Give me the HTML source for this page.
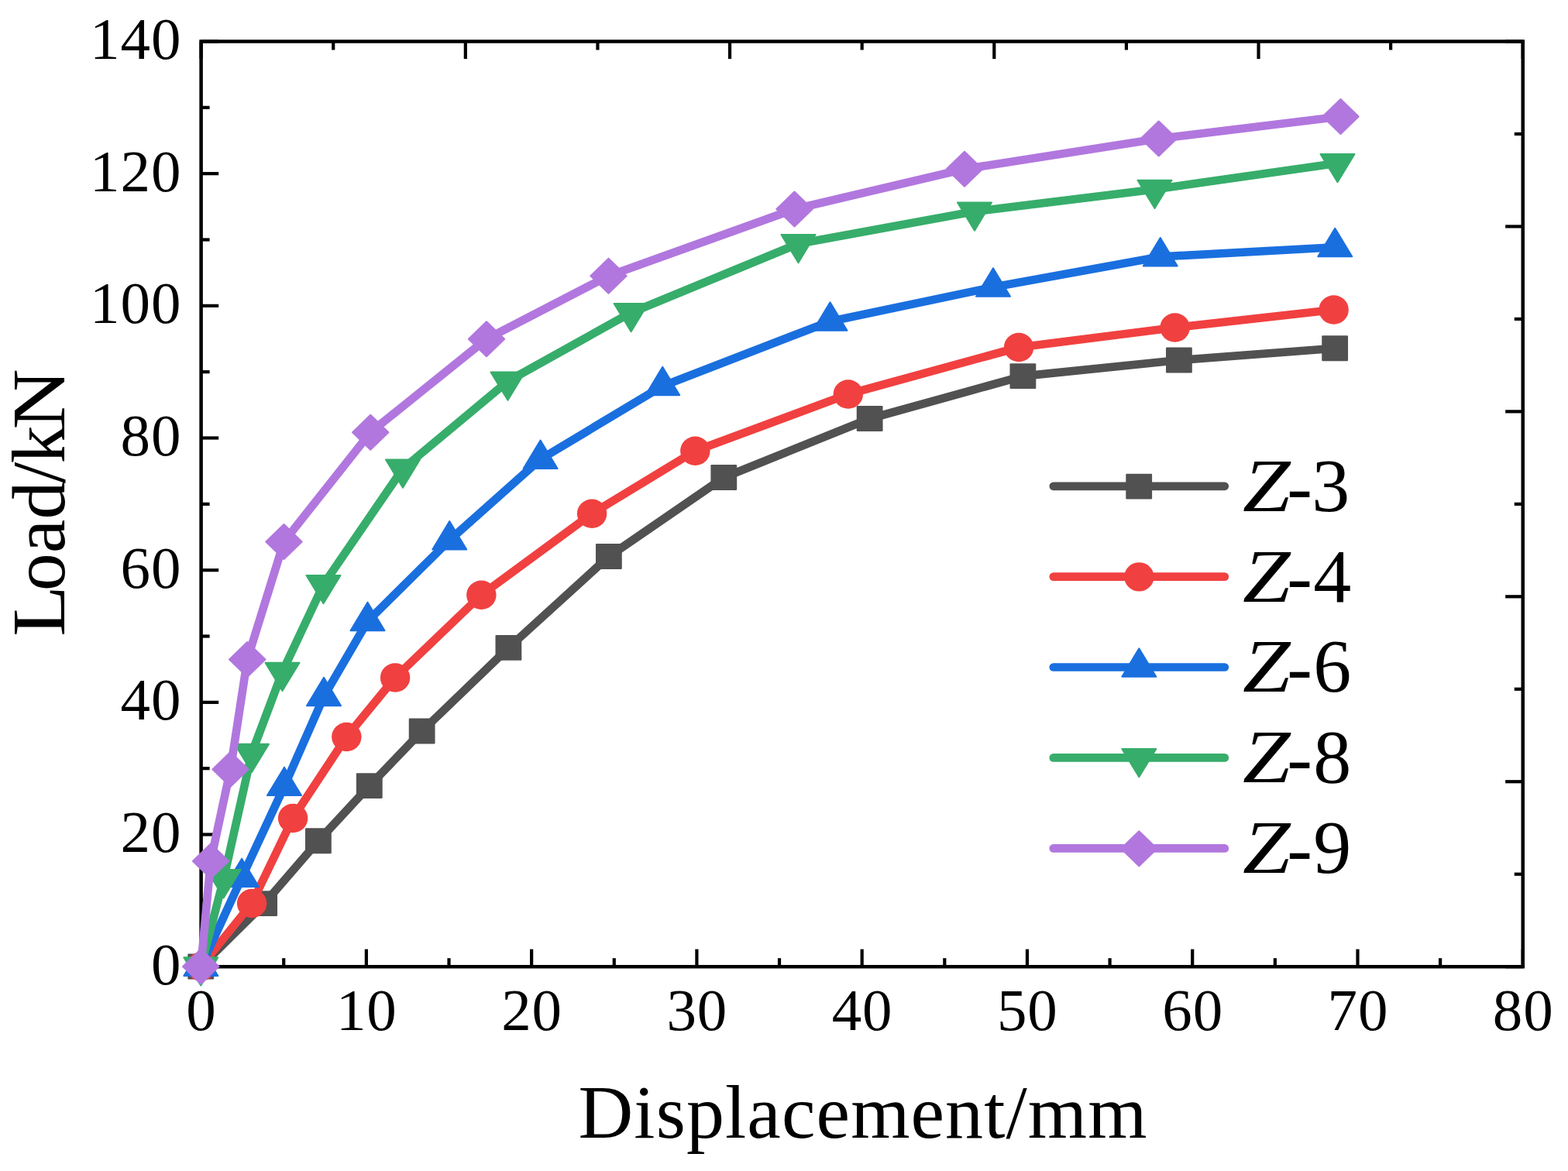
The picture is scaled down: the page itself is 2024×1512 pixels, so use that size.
<!DOCTYPE html>
<html lang="en"><head><meta charset="utf-8"><title>Load-Displacement curves</title>
<style>html,body{margin:0;padding:0;background:#fff;}body{width:2024px;height:1512px;overflow:hidden;}svg{display:block;}text{font-family:"Liberation Serif",serif;fill:#000;}</style>
</head><body>
<svg width="2024" height="1512" viewBox="0 0 2024 1512">
<rect x="0" y="0" width="2024" height="1512" fill="#fff"/>
<g stroke="#000" stroke-width="4.2" fill="none">
<line x1="259.6" y1="1248.2" x2="259.6" y2="1225.6"/>
<line x1="366.23" y1="1248.2" x2="366.23" y2="1237.2"/>
<line x1="472.87" y1="1248.2" x2="472.87" y2="1225.6"/>
<line x1="579.5" y1="1248.2" x2="579.5" y2="1237.2"/>
<line x1="686.14" y1="1248.2" x2="686.14" y2="1225.6"/>
<line x1="792.77" y1="1248.2" x2="792.77" y2="1237.2"/>
<line x1="899.41" y1="1248.2" x2="899.41" y2="1225.6"/>
<line x1="1006.04" y1="1248.2" x2="1006.04" y2="1237.2"/>
<line x1="1112.68" y1="1248.2" x2="1112.68" y2="1225.6"/>
<line x1="1219.31" y1="1248.2" x2="1219.31" y2="1237.2"/>
<line x1="1325.94" y1="1248.2" x2="1325.94" y2="1225.6"/>
<line x1="1432.58" y1="1248.2" x2="1432.58" y2="1237.2"/>
<line x1="1539.21" y1="1248.2" x2="1539.21" y2="1225.6"/>
<line x1="1645.85" y1="1248.2" x2="1645.85" y2="1237.2"/>
<line x1="1752.48" y1="1248.2" x2="1752.48" y2="1225.6"/>
<line x1="1859.12" y1="1248.2" x2="1859.12" y2="1237.2"/>
<line x1="1965.75" y1="1248.2" x2="1965.75" y2="1225.6"/>
<line x1="259.6" y1="1248.2" x2="282.2" y2="1248.2"/>
<line x1="259.6" y1="1162.86" x2="270.6" y2="1162.86"/>
<line x1="259.6" y1="1077.53" x2="282.2" y2="1077.53"/>
<line x1="259.6" y1="992.19" x2="270.6" y2="992.19"/>
<line x1="259.6" y1="906.86" x2="282.2" y2="906.86"/>
<line x1="259.6" y1="821.52" x2="270.6" y2="821.52"/>
<line x1="259.6" y1="736.19" x2="282.2" y2="736.19"/>
<line x1="259.6" y1="650.85" x2="270.6" y2="650.85"/>
<line x1="259.6" y1="565.51" x2="282.2" y2="565.51"/>
<line x1="259.6" y1="480.18" x2="270.6" y2="480.18"/>
<line x1="259.6" y1="394.84" x2="282.2" y2="394.84"/>
<line x1="259.6" y1="309.51" x2="270.6" y2="309.51"/>
<line x1="259.6" y1="224.17" x2="282.2" y2="224.17"/>
<line x1="259.6" y1="138.84" x2="270.6" y2="138.84"/>
<line x1="259.6" y1="53.5" x2="282.2" y2="53.5"/>
<line x1="259.6" y1="53.5" x2="259.6" y2="76.1"/>
<line x1="1965.75" y1="1248.2" x2="1943.15" y2="1248.2"/>
<line x1="430.22" y1="53.5" x2="430.22" y2="64.5"/>
<line x1="1965.75" y1="1128.73" x2="1954.75" y2="1128.73"/>
<line x1="600.83" y1="53.5" x2="600.83" y2="76.1"/>
<line x1="1965.75" y1="1009.26" x2="1943.15" y2="1009.26"/>
<line x1="771.45" y1="53.5" x2="771.45" y2="64.5"/>
<line x1="1965.75" y1="889.79" x2="1954.75" y2="889.79"/>
<line x1="942.06" y1="53.5" x2="942.06" y2="76.1"/>
<line x1="1965.75" y1="770.32" x2="1943.15" y2="770.32"/>
<line x1="1112.68" y1="53.5" x2="1112.68" y2="64.5"/>
<line x1="1965.75" y1="650.85" x2="1954.75" y2="650.85"/>
<line x1="1283.29" y1="53.5" x2="1283.29" y2="76.1"/>
<line x1="1965.75" y1="531.38" x2="1943.15" y2="531.38"/>
<line x1="1453.91" y1="53.5" x2="1453.91" y2="64.5"/>
<line x1="1965.75" y1="411.91" x2="1954.75" y2="411.91"/>
<line x1="1624.52" y1="53.5" x2="1624.52" y2="76.1"/>
<line x1="1965.75" y1="292.44" x2="1943.15" y2="292.44"/>
<line x1="1795.14" y1="53.5" x2="1795.14" y2="64.5"/>
<line x1="1965.75" y1="172.97" x2="1954.75" y2="172.97"/>
<line x1="1965.75" y1="53.5" x2="1965.75" y2="76.1"/>
<line x1="1965.75" y1="53.5" x2="1943.15" y2="53.5"/>
</g>
<rect x="259.6" y="53.5" width="1706.15" height="1194.7" fill="none" stroke="#000" stroke-width="4.5"/>
<g>
<polyline points="259.3,1248 341.25,1166.6 411,1085.75 476.9,1014.6 544.75,944 656.5,836.4 786,718.5 934.4,616.5 1122.75,540.5 1320.5,485.6 1522,465 1723.25,449.75" fill="none" stroke="#515151" stroke-width="10.7" stroke-linejoin="round" stroke-linecap="round"/>
<rect x="242.3" y="1231.55" width="33.8" height="32.9" rx="1.2" fill="#515151"/>
<rect x="324.25" y="1150.15" width="33.8" height="32.9" rx="1.2" fill="#515151"/>
<rect x="394" y="1069.3" width="33.8" height="32.9" rx="1.2" fill="#515151"/>
<rect x="459.9" y="998.15" width="33.8" height="32.9" rx="1.2" fill="#515151"/>
<rect x="527.75" y="927.55" width="33.8" height="32.9" rx="1.2" fill="#515151"/>
<rect x="639.5" y="819.95" width="33.8" height="32.9" rx="1.2" fill="#515151"/>
<rect x="769" y="702.05" width="33.8" height="32.9" rx="1.2" fill="#515151"/>
<rect x="917.4" y="600.05" width="33.8" height="32.9" rx="1.2" fill="#515151"/>
<rect x="1105.75" y="524.05" width="33.8" height="32.9" rx="1.2" fill="#515151"/>
<rect x="1303.5" y="469.15" width="33.8" height="32.9" rx="1.2" fill="#515151"/>
<rect x="1505" y="448.55" width="33.8" height="32.9" rx="1.2" fill="#515151"/>
<rect x="1706.25" y="433.3" width="33.8" height="32.9" rx="1.2" fill="#515151"/>
</g>
<g>
<polyline points="259.3,1248 325,1166.5 378,1056.5 447.25,951.5 510,875 621.25,768.25 764,663.25 897.25,582.25 1094.75,509 1315,448.5 1516.5,423 1721.5,400" fill="none" stroke="#F14040" stroke-width="10.7" stroke-linejoin="round" stroke-linecap="round"/>
<ellipse cx="259.4" cy="1248" rx="19.2" ry="18.7" fill="#F14040"/>
<ellipse cx="325.1" cy="1166.5" rx="19.2" ry="18.7" fill="#F14040"/>
<ellipse cx="378.1" cy="1056.5" rx="19.2" ry="18.7" fill="#F14040"/>
<ellipse cx="447.35" cy="951.5" rx="19.2" ry="18.7" fill="#F14040"/>
<ellipse cx="510.1" cy="875" rx="19.2" ry="18.7" fill="#F14040"/>
<ellipse cx="621.35" cy="768.25" rx="19.2" ry="18.7" fill="#F14040"/>
<ellipse cx="764.1" cy="663.25" rx="19.2" ry="18.7" fill="#F14040"/>
<ellipse cx="897.35" cy="582.25" rx="19.2" ry="18.7" fill="#F14040"/>
<ellipse cx="1094.85" cy="509" rx="19.2" ry="18.7" fill="#F14040"/>
<ellipse cx="1315.1" cy="448.5" rx="19.2" ry="18.7" fill="#F14040"/>
<ellipse cx="1516.6" cy="423" rx="19.2" ry="18.7" fill="#F14040"/>
<ellipse cx="1721.6" cy="400" rx="19.2" ry="18.7" fill="#F14040"/>
</g>
<g>
<polyline points="259.3,1248 312.1,1133.2 367,1015.2 418,899.4 474.5,802.25 580.25,697.5 697.6,593 855.25,498.4 1071.5,414.9 1282,370.75 1497.75,331.5 1723.25,319.25" fill="none" stroke="#1A6FDF" stroke-width="10.7" stroke-linejoin="round" stroke-linecap="round"/>
<polygon points="237.3,1259.9 281.3,1259.9 259.3,1223.45" fill="#1A6FDF" stroke="#1A6FDF" stroke-width="2" stroke-linejoin="round"/>
<polygon points="290.1,1145.1 334.1,1145.1 312.1,1108.65" fill="#1A6FDF" stroke="#1A6FDF" stroke-width="2" stroke-linejoin="round"/>
<polygon points="345,1027.1 389,1027.1 367,990.65" fill="#1A6FDF" stroke="#1A6FDF" stroke-width="2" stroke-linejoin="round"/>
<polygon points="396,911.3 440,911.3 418,874.85" fill="#1A6FDF" stroke="#1A6FDF" stroke-width="2" stroke-linejoin="round"/>
<polygon points="452.5,814.15 496.5,814.15 474.5,777.7" fill="#1A6FDF" stroke="#1A6FDF" stroke-width="2" stroke-linejoin="round"/>
<polygon points="558.25,709.4 602.25,709.4 580.25,672.95" fill="#1A6FDF" stroke="#1A6FDF" stroke-width="2" stroke-linejoin="round"/>
<polygon points="675.6,604.9 719.6,604.9 697.6,568.45" fill="#1A6FDF" stroke="#1A6FDF" stroke-width="2" stroke-linejoin="round"/>
<polygon points="833.25,510.3 877.25,510.3 855.25,473.85" fill="#1A6FDF" stroke="#1A6FDF" stroke-width="2" stroke-linejoin="round"/>
<polygon points="1049.5,426.8 1093.5,426.8 1071.5,390.35" fill="#1A6FDF" stroke="#1A6FDF" stroke-width="2" stroke-linejoin="round"/>
<polygon points="1260,382.65 1304,382.65 1282,346.2" fill="#1A6FDF" stroke="#1A6FDF" stroke-width="2" stroke-linejoin="round"/>
<polygon points="1475.75,343.4 1519.75,343.4 1497.75,306.95" fill="#1A6FDF" stroke="#1A6FDF" stroke-width="2" stroke-linejoin="round"/>
<polygon points="1701.25,331.15 1745.25,331.15 1723.25,294.7" fill="#1A6FDF" stroke="#1A6FDF" stroke-width="2" stroke-linejoin="round"/>
</g>
<g>
<polyline points="259.3,1248 288.7,1134.8 325,972.5 364.5,867.5 417.5,754.75 520,605.25 655.5,492.25 814.6,403.7 1030.5,314.75 1258,273.1 1490.5,244.5 1726.5,210.75" fill="none" stroke="#37AD6B" stroke-width="10.7" stroke-linejoin="round" stroke-linecap="round"/>
<polygon points="237.3,1236.3 281.3,1236.3 259.3,1272.55" fill="#37AD6B" stroke="#37AD6B" stroke-width="2" stroke-linejoin="round"/>
<polygon points="266.7,1123.1 310.7,1123.1 288.7,1159.35" fill="#37AD6B" stroke="#37AD6B" stroke-width="2" stroke-linejoin="round"/>
<polygon points="303,960.8 347,960.8 325,997.05" fill="#37AD6B" stroke="#37AD6B" stroke-width="2" stroke-linejoin="round"/>
<polygon points="342.5,855.8 386.5,855.8 364.5,892.05" fill="#37AD6B" stroke="#37AD6B" stroke-width="2" stroke-linejoin="round"/>
<polygon points="395.5,743.05 439.5,743.05 417.5,779.3" fill="#37AD6B" stroke="#37AD6B" stroke-width="2" stroke-linejoin="round"/>
<polygon points="498,593.55 542,593.55 520,629.8" fill="#37AD6B" stroke="#37AD6B" stroke-width="2" stroke-linejoin="round"/>
<polygon points="633.5,480.55 677.5,480.55 655.5,516.8" fill="#37AD6B" stroke="#37AD6B" stroke-width="2" stroke-linejoin="round"/>
<polygon points="792.6,392 836.6,392 814.6,428.25" fill="#37AD6B" stroke="#37AD6B" stroke-width="2" stroke-linejoin="round"/>
<polygon points="1008.5,303.05 1052.5,303.05 1030.5,339.3" fill="#37AD6B" stroke="#37AD6B" stroke-width="2" stroke-linejoin="round"/>
<polygon points="1236,261.4 1280,261.4 1258,297.65" fill="#37AD6B" stroke="#37AD6B" stroke-width="2" stroke-linejoin="round"/>
<polygon points="1468.5,232.8 1512.5,232.8 1490.5,269.05" fill="#37AD6B" stroke="#37AD6B" stroke-width="2" stroke-linejoin="round"/>
<polygon points="1704.5,199.05 1748.5,199.05 1726.5,235.3" fill="#37AD6B" stroke="#37AD6B" stroke-width="2" stroke-linejoin="round"/>
</g>
<g>
<polyline points="259.3,1248 272,1111.85 297.5,993.4 319.25,851.5 366.5,699.5 478.25,558.25 628,437.75 785.5,356.25 1025.5,270 1245,218.25 1495.75,179 1730.5,150.5" fill="none" stroke="#B177DE" stroke-width="10.7" stroke-linejoin="round" stroke-linecap="round"/>
<polygon points="236.1,1248 259.3,1225.5 282.5,1248 259.3,1270.5" fill="#B177DE" stroke="#B177DE" stroke-width="2" stroke-linejoin="round"/>
<polygon points="248.8,1111.85 272,1089.35 295.2,1111.85 272,1134.35" fill="#B177DE" stroke="#B177DE" stroke-width="2" stroke-linejoin="round"/>
<polygon points="274.3,993.4 297.5,970.9 320.7,993.4 297.5,1015.9" fill="#B177DE" stroke="#B177DE" stroke-width="2" stroke-linejoin="round"/>
<polygon points="296.05,851.5 319.25,829 342.45,851.5 319.25,874" fill="#B177DE" stroke="#B177DE" stroke-width="2" stroke-linejoin="round"/>
<polygon points="343.3,699.5 366.5,677 389.7,699.5 366.5,722" fill="#B177DE" stroke="#B177DE" stroke-width="2" stroke-linejoin="round"/>
<polygon points="455.05,558.25 478.25,535.75 501.45,558.25 478.25,580.75" fill="#B177DE" stroke="#B177DE" stroke-width="2" stroke-linejoin="round"/>
<polygon points="604.8,437.75 628,415.25 651.2,437.75 628,460.25" fill="#B177DE" stroke="#B177DE" stroke-width="2" stroke-linejoin="round"/>
<polygon points="762.3,356.25 785.5,333.75 808.7,356.25 785.5,378.75" fill="#B177DE" stroke="#B177DE" stroke-width="2" stroke-linejoin="round"/>
<polygon points="1002.3,270 1025.5,247.5 1048.7,270 1025.5,292.5" fill="#B177DE" stroke="#B177DE" stroke-width="2" stroke-linejoin="round"/>
<polygon points="1221.8,218.25 1245,195.75 1268.2,218.25 1245,240.75" fill="#B177DE" stroke="#B177DE" stroke-width="2" stroke-linejoin="round"/>
<polygon points="1472.55,179 1495.75,156.5 1518.95,179 1495.75,201.5" fill="#B177DE" stroke="#B177DE" stroke-width="2" stroke-linejoin="round"/>
<polygon points="1707.3,150.5 1730.5,128 1753.7,150.5 1730.5,173" fill="#B177DE" stroke="#B177DE" stroke-width="2" stroke-linejoin="round"/>
</g>
<line x1="1359.8" y1="627.8" x2="1580.8" y2="627.8" stroke="#515151" stroke-width="10.7" stroke-linecap="round"/>
<rect x="1453.3" y="611.65" width="33.8" height="32.9" rx="1.2" fill="#515151"/>
<text font-size="98"><tspan x="1604" y="659.7" font-style="italic" textLength="61.57" lengthAdjust="spacingAndGlyphs">Z</tspan><tspan x="1661.2" y="660.6">-</tspan><tspan x="1693.3" y="659.7">3</tspan></text>
<line x1="1359.8" y1="744.6" x2="1580.8" y2="744.6" stroke="#F14040" stroke-width="10.7" stroke-linecap="round"/>
<ellipse cx="1470.4" cy="744.9" rx="19.2" ry="18.7" fill="#F14040"/>
<text font-size="98"><tspan x="1604" y="776.5" font-style="italic" textLength="61.57" lengthAdjust="spacingAndGlyphs">Z</tspan><tspan x="1661.2" y="777.4">-</tspan><tspan x="1695.3" y="776.5">4</tspan></text>
<line x1="1359.8" y1="861.5" x2="1580.8" y2="861.5" stroke="#1A6FDF" stroke-width="10.7" stroke-linecap="round"/>
<polygon points="1448.3,873.7 1492.3,873.7 1470.3,837.25" fill="#1A6FDF" stroke="#1A6FDF" stroke-width="2" stroke-linejoin="round"/>
<text font-size="98"><tspan x="1604" y="893.4" font-style="italic" textLength="61.57" lengthAdjust="spacingAndGlyphs">Z</tspan><tspan x="1661.2" y="894.3">-</tspan><tspan x="1695.3" y="893.4">6</tspan></text>
<line x1="1359.8" y1="978.4" x2="1580.8" y2="978.4" stroke="#37AD6B" stroke-width="10.7" stroke-linecap="round"/>
<polygon points="1448.3,967 1492.3,967 1470.3,1003.25" fill="#37AD6B" stroke="#37AD6B" stroke-width="2" stroke-linejoin="round"/>
<text font-size="98"><tspan x="1604" y="1010.3" font-style="italic" textLength="61.57" lengthAdjust="spacingAndGlyphs">Z</tspan><tspan x="1661.2" y="1011.2">-</tspan><tspan x="1695.3" y="1010.3">8</tspan></text>
<line x1="1359.8" y1="1095.4" x2="1580.8" y2="1095.4" stroke="#B177DE" stroke-width="10.7" stroke-linecap="round"/>
<polygon points="1447.1,1095.7 1470.3,1073.2 1493.5,1095.7 1470.3,1118.2" fill="#B177DE" stroke="#B177DE" stroke-width="2" stroke-linejoin="round"/>
<text font-size="98"><tspan x="1604" y="1127.3" font-style="italic" textLength="61.57" lengthAdjust="spacingAndGlyphs">Z</tspan><tspan x="1661.2" y="1128.2">-</tspan><tspan x="1695.3" y="1127.3">9</tspan></text>
<text x="260.05" y="1329.7" font-size="77" letter-spacing="0.9" text-anchor="middle">0</text>
<text x="473.32" y="1329.7" font-size="77" letter-spacing="0.9" text-anchor="middle">10</text>
<text x="686.59" y="1329.7" font-size="77" letter-spacing="0.9" text-anchor="middle">20</text>
<text x="899.86" y="1329.7" font-size="77" letter-spacing="0.9" text-anchor="middle">30</text>
<text x="1113.13" y="1329.7" font-size="77" letter-spacing="0.9" text-anchor="middle">40</text>
<text x="1326.39" y="1329.7" font-size="77" letter-spacing="0.9" text-anchor="middle">50</text>
<text x="1539.66" y="1329.7" font-size="77" letter-spacing="0.9" text-anchor="middle">60</text>
<text x="1752.93" y="1329.7" font-size="77" letter-spacing="0.9" text-anchor="middle">70</text>
<text x="1966.2" y="1329.7" font-size="77" letter-spacing="0.9" text-anchor="middle">80</text>
<text x="234.3" y="1270.7" font-size="77" letter-spacing="0.9" text-anchor="end">0</text>
<text x="234.3" y="1100.03" font-size="77" letter-spacing="0.9" text-anchor="end">20</text>
<text x="234.3" y="929.36" font-size="77" letter-spacing="0.9" text-anchor="end">40</text>
<text x="234.3" y="758.69" font-size="77" letter-spacing="0.9" text-anchor="end">60</text>
<text x="234.3" y="588.01" font-size="77" letter-spacing="0.9" text-anchor="end">80</text>
<text x="234.3" y="417.34" font-size="77" letter-spacing="0.9" text-anchor="end">100</text>
<text x="234.3" y="246.67" font-size="77" letter-spacing="0.9" text-anchor="end">120</text>
<text x="234.3" y="76" font-size="77" letter-spacing="0.9" text-anchor="end">140</text>
<text x="1114" y="1468.8" font-size="98" letter-spacing="1.1" text-anchor="middle">Displacement/mm</text>
<text transform="translate(82.8 820) rotate(-90)" y="0" font-size="98"><tspan x="-1.8" textLength="65.85" lengthAdjust="spacingAndGlyphs">L</tspan><tspan x="56.7 105.7 149.5 195.9 221.7">oad/k</tspan><tspan x="265.5" textLength="78.2" lengthAdjust="spacingAndGlyphs">N</tspan></text>
</svg>
</body></html>
